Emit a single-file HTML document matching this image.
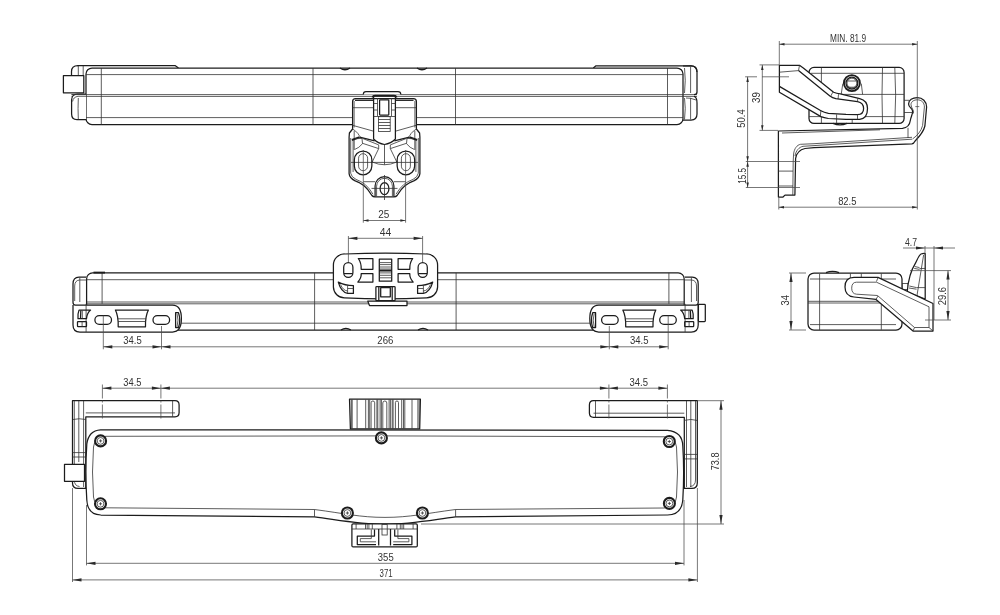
<!DOCTYPE html>
<html><head><meta charset="utf-8"><style>
html,body{margin:0;padding:0;background:#fff;width:1000px;height:615px;overflow:hidden}
svg{display:block;filter:grayscale(1)}
.o{stroke:#1c1c1c;stroke-width:1.25;stroke-linejoin:round}
.s{stroke:#1c1c1c;stroke-width:1.9}
.t{stroke:#333;stroke-width:0.8}
.k{stroke:#1c1c1c;stroke-width:1.3}
.s2{stroke:#1c1c1c;stroke-width:2.1}
.d{stroke:#4a4a4a;stroke-width:0.75}
.dd{stroke:#4a4a4a;stroke-width:0.75;stroke-dasharray:14 2 2 2}
.ar{fill:#2a2a2a;stroke:none}
text{font-family:"Liberation Sans",sans-serif;fill:#333}
</style></head><body>
<svg width="1000" height="615" viewBox="0 0 1000 615">
<rect width="1000" height="615" fill="#fff"/>
<path d="M77.5,65.5 L175,65.5 L178.5,68" class="o" fill="none"/>
<path d="M593.3,68 L596,65.8 L691,65.8 Q697,65.8 697,72" class="o" fill="none"/>
<rect x="86" y="68" width="597" height="56.5" rx="6" class="o" fill="#fff"/>
<line x1="86" y1="74.6" x2="683" y2="74.6" class="t"/>
<line x1="86" y1="117.6" x2="683" y2="117.6" class="t"/>
<line x1="71.5" y1="94.6" x2="697" y2="94.6" class="t"/>
<line x1="71.5" y1="96.4" x2="697" y2="96.4" class="t"/>
<line x1="101.3" y1="68" x2="101.3" y2="124.5" class="t"/>
<line x1="313" y1="68" x2="313" y2="124.5" class="t"/>
<line x1="455.5" y1="68" x2="455.5" y2="124.5" class="t"/>
<line x1="667.5" y1="68" x2="667.5" y2="124.5" class="t"/>
<path d="M340,68 Q345,71.5 350,68" class="o" fill="none"/>
<path d="M417,68 Q422,71.5 427,68" class="o" fill="none"/>
<path d="M83.2,75.7 L83.2,66" class="t" fill="none"/>
<path d="M78.3,75.7 L78.3,66" class="t" fill="none"/>
<path d="M78,65.5 Q71.5,65.5 71.5,71.5 L71.5,75.7" class="o" fill="none"/>
<rect x="63.4" y="75.7" width="20.4" height="17.1" rx="0" class="o" fill="#fff"/>
<path d="M86,94 L77.5,94 Q71.6,94.5 71.6,100 L71.6,114 Q71.6,119.6 77,119.6 L86,119.6" class="o" fill="#fff"/>
<path d="M86,96.3 L78,96.3 Q73.2,97 72.6,101.5" class="t" fill="none"/>
<path d="M78.3,98 Q77.8,108 78.3,119.3" class="t" fill="none"/>
<line x1="71.6" y1="94.6" x2="86" y2="94.6" class="t"/>
<line x1="86" y1="96.4" x2="86" y2="96.4" class="t"/>
<path d="M683,66 L691,65.8 Q697,65.8 697,72 L697,92 Q697,94.6 694,94.6" class="o" fill="none"/>
<path d="M694,96.4 Q697,97 697,103 L697,114 Q697,120 691,120 L683,120" class="o" fill="none"/>
<path d="M684.5,68 Q686,80 684.5,93" class="t" fill="none"/>
<path d="M690.6,66.5 L690.6,93" class="t" fill="none"/>
<path d="M684.5,98 Q686,108 684.5,119.5" class="t" fill="none"/>
<path d="M690.6,98 L690.6,119.5" class="t" fill="none"/>
<path d="M686,98 Q690,97.5 696,100" class="t" fill="none"/>
<path d="M363.4,94.6 L363.4,93.8 Q363.4,91.5 366,91.5 L398,91.5 Q400.7,91.5 400.7,93.8 L400.7,94.6" class="o" fill="#fff"/>
<path d="M352.6,129 L352.6,101.5 Q352.6,98.5 355.6,98.5 L413.4,98.5 Q416.4,98.5 416.4,101.5 L416.4,129 L419.6,133 L419.9,137 L419.9,173.6 Q419.5,178 413.8,180.9 Q409,182.5 404.9,185.8 Q401,189 397.1,195.5 Q396,196.9 394,196.9 L375,196.9 Q373,196.9 371.9,195.5 Q368,189 364.1,185.8 Q360,182.5 355.2,180.9 Q349.5,178 349.1,173.6 L349.1,137 L349.4,133 L352.6,129 Z" class="o" fill="#fff"/>
<line x1="355" y1="100.3" x2="373.6" y2="100.3" class="o"/>
<line x1="395.4" y1="100.3" x2="413.5" y2="100.3" class="o"/>
<line x1="354.1" y1="101" x2="354.1" y2="127.5" class="t"/>
<line x1="414.9" y1="101" x2="414.9" y2="127.5" class="t"/>
<line x1="352.5" y1="107.7" x2="373.6" y2="107.7" class="t"/>
<line x1="395.4" y1="107.7" x2="416.2" y2="107.7" class="t"/>
<line x1="352.5" y1="125.3" x2="373.6" y2="131.2" class="t"/>
<line x1="416.2" y1="125.3" x2="395.4" y2="131.2" class="t"/>
<path d="M373.6,95.6 L373.6,139 Q378,143.5 384.5,144.5 Q391,143.5 395.4,139 L395.4,95.6" class="o" fill="none"/>
<rect x="379.6" y="99.8" width="9.2" height="15.2" rx="0.5" class="o" fill="none"/>
<path d="M372.5,97.5 Q373,95.8 375,95.8 L394,95.8 Q396,95.8 396.5,97.5" class="s" fill="none"/>
<line x1="377.5" y1="98" x2="377.5" y2="116" class="t"/>
<line x1="391.5" y1="98" x2="391.5" y2="116" class="t"/>
<line x1="373.6" y1="103.5" x2="377.5" y2="103.5" class="t"/>
<line x1="373.6" y1="110" x2="377.5" y2="110" class="t"/>
<line x1="391.5" y1="103.5" x2="395.4" y2="103.5" class="t"/>
<line x1="391.5" y1="110" x2="395.4" y2="110" class="t"/>
<line x1="373.6" y1="116.5" x2="395.4" y2="116.5" class="t"/>
<rect x="378.5" y="116.7" width="11.7" height="14.8" rx="0" class="t" fill="none"/>
<line x1="378.5" y1="119.5" x2="390.2" y2="119.5" class="t"/>
<line x1="378.5" y1="122.5" x2="390.2" y2="122.5" class="t"/>
<line x1="378.5" y1="125.5" x2="390.2" y2="125.5" class="t"/>
<line x1="378.5" y1="128.5" x2="390.2" y2="128.5" class="t"/>
<path d="M352.6,129 Q356,131 358,133.6 Q359,135.5 360.2,136.6" class="t" fill="none"/>
<path d="M416.4,129 Q413,131 411,133.6 Q410,135.5 408.8,136.6" class="t" fill="none"/>
<line x1="354.2" y1="131" x2="354.2" y2="150" class="t"/>
<line x1="414.8" y1="131" x2="414.8" y2="150" class="t"/>
<path d="M351.9,140 L359.6,137.2" class="s" fill="none"/>
<path d="M417.1,140 L409.4,137.2" class="s" fill="none"/>
<path d="M359.6,137.2 L374.7,140.9" class="o" fill="none"/>
<path d="M409.4,137.2 L394.3,140.9" class="o" fill="none"/>
<path d="M354.8,138.8 L362,138.4 L362.5,143.7 Q359,148 354.8,149.4" class="t" fill="none"/>
<path d="M414.2,138.8 L407,138.4 L406.5,143.7 Q410,148 414.2,149.4" class="t" fill="none"/>
<line x1="362.5" y1="138.4" x2="378.7" y2="144.9" class="t"/>
<line x1="362.5" y1="143.3" x2="378.7" y2="148.6" class="t"/>
<line x1="406.5" y1="138.4" x2="390.3" y2="144.9" class="t"/>
<line x1="406.5" y1="143.3" x2="390.3" y2="148.6" class="t"/>
<path d="M350.7,138 L350.7,173.2 Q351.2,177 356,179.4 Q361,181.2 365.2,184.5 Q369.3,188 373,194.2 M396,194.2 Q399.7,188 403.8,184.5 Q408,181.2 413,179.4 Q417.8,177 418.3,173.2 L418.3,138" class="t" fill="none"/>
<line x1="353.1" y1="140" x2="353.1" y2="172" class="t"/>
<line x1="415.9" y1="140" x2="415.9" y2="172" class="t"/>
<line x1="384.5" y1="144.5" x2="384.5" y2="164.8" class="t"/>
<line x1="378.7" y1="148.6" x2="372.2" y2="162" class="t"/>
<line x1="390.3" y1="148.6" x2="396.8" y2="162" class="t"/>
<path d="M372.2,162 Q384.5,167.5 396.8,162" class="t" fill="none"/>
<line x1="378.7" y1="144.9" x2="378.7" y2="148.6" class="t"/>
<line x1="390.3" y1="144.9" x2="390.3" y2="148.6" class="t"/>
<line x1="351" y1="162.4" x2="418" y2="162.4" class="t"/>
<rect x="354.35" y="151" width="17.5" height="23.8" rx="8.75" class="o" fill="none"/>
<rect x="358.6" y="153.7" width="9" height="17" rx="4.5" class="t" fill="none"/>
<rect x="397.15" y="151" width="17.5" height="23.8" rx="8.75" class="o" fill="none"/>
<rect x="401.4" y="153.7" width="9" height="17" rx="4.5" class="t" fill="none"/>
<path d="M375.1,196.6 L375.1,186 A9.4,9.4 0 0 1 393.9,186 L393.9,196.6" class="o" fill="none"/>
<path d="M376.6,196.3 L376.6,186.2 A7.9,7.9 0 0 1 392.4,186.2 L392.4,196.3" class="t" fill="none"/>
<ellipse cx="384.5" cy="188.7" rx="4.4" ry="6" class="o" fill="none"/>
<line x1="371.5" y1="188.4" x2="397.5" y2="188.4" class="t"/>
<line x1="363.3" y1="181.7" x2="375" y2="181.7" class="t"/>
<line x1="394" y1="181.7" x2="405.7" y2="181.7" class="t"/>
<line x1="384.5" y1="175" x2="384.5" y2="200" class="t"/>
<rect x="809" y="67.4" width="95.1" height="56" rx="5" class="o" fill="#fff"/>
<line x1="811" y1="73.3" x2="904" y2="73.3" class="t"/>
<line x1="809" y1="94.4" x2="904" y2="94.4" class="t"/>
<line x1="809" y1="116.6" x2="904" y2="116.6" class="t"/>
<path d="M882.5,67.6 Q881.5,95 882.5,123.2" class="t" fill="none"/>
<path d="M894.8,67.6 Q896.5,95 894.8,123.2" class="t" fill="none"/>
<line x1="821.4" y1="67.6" x2="821.4" y2="123.2" class="t"/>
<line x1="836.6" y1="112" x2="836.6" y2="123.2" class="t"/>
<line x1="852.2" y1="112" x2="852.2" y2="123.2" class="t"/>
<path d="M833,123.4 Q840,126.5 847,123.4" class="o" fill="none"/>
<path d="M842.8,83.6 L841.2,94.4 M861.3,83.6 L862.6,94.4" class="t" fill="none"/>
<circle cx="851.9" cy="83.1" r="8.0" class="s" fill="#fff"/>
<circle cx="851.9" cy="83.1" r="5.9" class="k" fill="none"/>
<circle cx="851.9" cy="83.1" r="4.9" class="t" fill="none"/>
<line x1="847.5" y1="81" x2="856.3" y2="81" class="t"/>
<line x1="847.5" y1="87.2" x2="856.3" y2="87.2" class="t"/>
<path d="M779.4,65.3 L799.5,65.3 L803.3,67.9 L833.6,92.3 Q836.5,93.6 840.3,93.8 L859.7,98.6 Q867.5,100.5 867.5,108.5 Q867.5,118.7 859.7,119.3 L846,119.3 L828.4,118.5 Q824,117.8 820.9,116.6 L779.4,92.3 Z" class="o" fill="#fff"/>
<path d="M779.4,72.2 L798.5,70.6 L799.5,65.3" class="t" fill="none"/>
<path d="M798.5,70.6 L829.9,96.1 Q832.5,98 835.8,98.7 L857.5,101.6 Q863.6,102.8 863.6,108.5 Q863.6,114.6 857.5,114.6 L846,114.4 L828.4,113.3 Q824,112.5 820.9,110.7 L779.4,86.4" class="o" fill="none"/>
<line x1="832.8" y1="92.2" x2="830.6" y2="96.4" class="t"/>
<line x1="838.5" y1="94.2" x2="838.1" y2="99" class="t"/>
<line x1="820.9" y1="110.7" x2="820.3" y2="116.3" class="t"/>
<line x1="836.6" y1="114.4" x2="836.6" y2="119.3" class="t"/>
<line x1="857.8" y1="98.4" x2="857.5" y2="101.6" class="t"/>
<line x1="857.5" y1="114.6" x2="857.5" y2="119.3" class="t"/>
<path d="M778.4,197 L778.4,131 L902.5,128.3 C907,127.8 909.8,124.5 910.3,120.5 C910.8,117 913,114 912.6,111 C912.2,108 908.6,107.5 908.6,104 C908.6,100 912.5,97.6 917.3,97.6 C922.5,97.6 926.6,101.5 926.6,107 L924.9,126 C923.5,132 919,137 915.1,141 Q913.8,143.6 911.9,143.9 L814,147.7 L805,148.5 C800,149.5 796.5,153 795.6,158.5 L794.9,195.1 L785,195.1 L783,197 Z" class="o" fill="#fff"/>
<path d="M912,137.3 L814,143.7 L800.5,144.3 C797,145 794.2,148.5 793.6,154 L793.2,161.3 L792.8,195" class="t" fill="none"/>
<path d="M912,139.2 L814,145.6 L803,146.3 C799,147.2 796,150.5 795,156" class="t" fill="none"/>
<path d="M782,133 L880,129.8" class="t" fill="none"/>
<path d="M913.4,113.5 C914.5,110.5 911,108 911,104.6 C911,101.6 914,99.8 917.3,99.8 C921.5,99.8 924.4,102.5 924.4,107 L922.6,125.5 C921.2,131 917.5,135.5 912.5,139" class="t" fill="none"/>
<line x1="908" y1="127.8" x2="908" y2="138" class="t"/>
<line x1="778.4" y1="171.1" x2="793" y2="171.1" class="t"/>
<line x1="778.4" y1="186" x2="793" y2="186" class="t"/>
<line x1="904" y1="100.3" x2="909.5" y2="100.3" class="t"/>
<line x1="904" y1="112.5" x2="912.5" y2="112.5" class="t"/>
<rect x="86.6" y="272.9" width="597.6" height="57.1" rx="6" class="o" fill="#fff"/>
<line x1="86.6" y1="279.7" x2="684.2" y2="279.7" class="t"/>
<line x1="86.6" y1="302" x2="684.2" y2="302" class="t"/>
<line x1="86.6" y1="303.8" x2="684.2" y2="303.8" class="t"/>
<line x1="180" y1="323.2" x2="592" y2="323.2" class="t"/>
<line x1="314.6" y1="272.9" x2="314.6" y2="330" class="t"/>
<line x1="456.1" y1="272.9" x2="456.1" y2="330" class="t"/>
<line x1="102.1" y1="272.9" x2="102.1" y2="303.8" class="t"/>
<line x1="668.9" y1="272.9" x2="668.9" y2="303.8" class="t"/>
<path d="M340.9,330 Q345.9,326.6 350.9,330" class="o" fill="none"/>
<path d="M418,330 Q423,326.6 428,330" class="o" fill="none"/>
<line x1="93.5" y1="272.6" x2="105" y2="272.6" class="s"/>
<g id="endL">
<path d="M86.6,277.1 L79,277.1 Q73,277.1 73,284 L73,302.5 Q73,305 75.5,305 L172.5,305 Q181.4,305 181.4,318.6 Q181.4,332 172.5,332 L80,332 Q73,332 73,325 L73,305" class="o" fill="#fff"/>
<path d="M86.6,280 L79.5,280 Q74.7,280.5 74.7,286 L74.7,301" class="t" fill="none"/>
<line x1="79.8" y1="277.5" x2="79.8" y2="302" class="t"/>
<line x1="86.1" y1="303.8" x2="86.1" y2="332" class="t"/>
<rect x="94.9" y="315.7" width="16.6" height="8.6" rx="4.3" class="o" fill="none"/>
<rect x="153" y="315.7" width="16.6" height="8.6" rx="4.3" class="o" fill="none"/>
<path d="M115.4,310 L148.4,310 Q145.2,316 145.5,326.8 L118.2,326.8 Q118.5,316 115.4,310 Z" class="o" fill="none"/>
<line x1="117.8" y1="318.8" x2="146" y2="318.8" class="t"/>
<line x1="118" y1="321.5" x2="145.8" y2="321.5" class="t"/>
<path d="M175.6,312.7 L178.5,312.7 Q181,320 178.5,327.5 L175.6,327.5 Z" class="o" fill="none"/>
<path d="M177,313.5 Q179,320 177,327" class="t" fill="none"/>
<path d="M79,310.1 L90.6,310.1 Q87,313 86.5,318.7 L78,318.7 Q77.5,314 79,310.1 Z" class="o" fill="none"/>
<line x1="80.8" y1="310.5" x2="80.5" y2="318.5" class="o"/>
<line x1="82.3" y1="310.5" x2="82.3" y2="318.5" class="t"/>
<rect x="77.5" y="321.5" width="9" height="5.2" rx="0.6" class="o" fill="none"/>
<line x1="82.1" y1="321.5" x2="82.1" y2="326.7" class="t"/>
</g>
<use href="#endL" transform="translate(771.2,0) scale(-1,1)"/>
<rect x="698.4" y="304.4" width="6.9" height="17.1" rx="0.8" class="o" fill="#fff"/>
<path d="M367.8,301.2 L407,301.2 L407,305.6 L369.5,305.6 Z" class="o" fill="#fff"/>
<path d="M344.6,254 Q385.5,252.4 426.4,254 A11,11 0 0 1 437.6,265 L437.6,287 A11,11 0 0 1 426.4,297.8 Q385.5,300 344.6,297.8 A11,11 0 0 1 333.4,287 L333.4,265 A11,11 0 0 1 344.6,254 Z" class="o" fill="#fff"/>
<g id="cpL">
<rect x="343.7" y="262.6" width="9.2" height="14.7" rx="4.6" class="o" fill="none"/>
<line x1="343.9" y1="273.6" x2="352.7" y2="273.6" class="o"/>
<path d="M358.3,258.5 L372.9,258.5 L372.9,269.3 L361.2,269.3 Q361.5,263 358.3,258.5 Z" class="o" fill="none"/>
<path d="M361.2,273.6 L372.9,273.6 L372.9,282.1 L357.8,282.1 Q361.5,278 361.2,273.6 Z" class="o" fill="none"/>
<path d="M338.3,282.1 Q341,292 347.6,293.4 L353.4,293.4 L353.4,285.6 Q345,285.6 338.3,282.1 Z" class="o" fill="none"/>
<path d="M340.5,284.5 Q343,290.5 347.6,291" class="t" fill="none"/>
<line x1="347.6" y1="285.2" x2="347.6" y2="293.4" class="t"/>
<line x1="347.6" y1="288.5" x2="353.4" y2="288.5" class="t"/>
</g>
<use href="#cpL" transform="translate(771,0) scale(-1,1)"/>
<rect x="379.3" y="259.2" width="12.4" height="22" rx="0" class="o" fill="none"/>
<line x1="379.3" y1="262.6" x2="391.7" y2="262.6" class="t"/>
<line x1="379.3" y1="264.6" x2="391.7" y2="264.6" class="t"/>
<line x1="379.3" y1="267" x2="391.7" y2="267" class="t"/>
<line x1="379.3" y1="269" x2="391.7" y2="269" class="t"/>
<line x1="379.3" y1="270.6" x2="391.7" y2="270.6" class="s"/>
<line x1="379.3" y1="272.9" x2="391.7" y2="272.9" class="t"/>
<line x1="379.3" y1="275.3" x2="391.7" y2="275.3" class="t"/>
<line x1="379.3" y1="277.8" x2="391.7" y2="277.8" class="t"/>
<rect x="375.9" y="286.5" width="19.2" height="14.2" rx="0.8" class="o" fill="#fff"/>
<rect x="380.7" y="287.5" width="9.6" height="9.3" rx="0" class="o" fill="none"/>
<line x1="378.8" y1="287" x2="378.8" y2="300.5" class="o"/>
<line x1="392.2" y1="287" x2="392.2" y2="300.5" class="o"/>
<rect x="808" y="273" width="94" height="57" rx="6" class="o" fill="#fff"/>
<line x1="819.6" y1="274" x2="819.6" y2="330" class="t"/>
<line x1="808" y1="301.3" x2="882" y2="301.3" class="t"/>
<line x1="808" y1="303" x2="882" y2="303" class="t"/>
<line x1="810" y1="279" x2="896" y2="279" class="t"/>
<line x1="810" y1="324.6" x2="896" y2="324.6" class="t"/>
<line x1="881.3" y1="300" x2="881.3" y2="329.8" class="t"/>
<line x1="850.4" y1="273.5" x2="850.4" y2="279" class="t"/>
<line x1="861.3" y1="273.5" x2="861.3" y2="279" class="t"/>
<line x1="881.3" y1="273.5" x2="881.3" y2="279" class="t"/>
<path d="M826,272.7 Q832.5,270 839,272.7" class="o" fill="none"/>
<rect x="902.5" y="283.5" width="5.5" height="6" rx="0" class="t" fill="#fff"/>
<path d="M907.2,292 C908,282 910.5,271 915.6,262.9 C917.5,259 919,255 921,254 Q923,253.3 925.2,253.5 L925.2,299 Z" class="o" fill="#fff"/>
<path d="M914.7,266.5 L919.5,267.6 M914.2,268.4 L919.5,269.4" class="t" fill="none"/>
<line x1="919.5" y1="268.6" x2="925.2" y2="268.4" class="t"/>
<path d="M909.3,286 L916.5,287.6 M909,288 L916.5,289.2" class="t" fill="none"/>
<line x1="916.5" y1="287.6" x2="925.2" y2="287.6" class="t"/>
<line x1="923.6" y1="255" x2="916.9" y2="296" class="t"/>
<path d="M854,277.4 L878,277.4 L933,303.5 L933,331 L913,331 L876,299.4 L854,297 Q845,296 845,287 Q845,277.4 854,277.4 Z" class="o" fill="#fff"/>
<path d="M856.5,282.2 L876.5,282.2 L929,306.8 L929,327.5 L914.5,327.5 L877.5,295.5 L856.5,294.2 Q851.7,293.8 851.7,288.2 Q851.7,282.2 856.5,282.2 Z" class="t" fill="none"/>
<line x1="878" y1="277.4" x2="876.5" y2="281.5" class="t"/>
<line x1="876" y1="299.4" x2="878" y2="296" class="t"/>
<line x1="933" y1="331" x2="929" y2="327.5" class="t"/>
<line x1="913" y1="331" x2="914.5" y2="327.5" class="t"/>
<path d="M72.5,483 L72.5,400.7 L175,400.7 Q179.1,400.7 179.1,405 L179.1,412.5 Q179.1,416.8 175,416.8 L85.8,416.8 L85.8,488.4 L78,488.4 Q72.5,488.4 72.5,483 Z" class="o" fill="#fff"/>
<line x1="85.8" y1="412.9" x2="175" y2="412.9" class="t"/>
<line x1="78.8" y1="401" x2="78.8" y2="462" class="t"/>
<line x1="83.6" y1="401" x2="83.6" y2="487" class="t"/>
<line x1="172.6" y1="401" x2="172.6" y2="416.8" class="t"/>
<path d="M73,419.5 Q79,418 85.8,419.5" class="t" fill="none"/>
<line x1="72.5" y1="452.6" x2="85.8" y2="452.6" class="t"/>
<line x1="72.5" y1="457" x2="85.8" y2="457" class="t"/>
<path d="M74.3,401 L74.3,480 Q74.3,486 79.5,486.5" class="t" fill="none"/>
<rect x="64.5" y="464.3" width="20" height="17" rx="0" class="o" fill="#fff"/>
<path d="M697.3,483 L697.3,400.7 L593.5,400.7 Q589.4,400.7 589.4,405 L589.4,413 Q589.4,417.3 593.5,417.3 L684.3,417.3 L684.3,488.4 L692,488.4 Q697.3,488.4 697.3,483 Z" class="o" fill="#fff"/>
<line x1="684.3" y1="413.2" x2="593.5" y2="413.2" class="t"/>
<line x1="690.8" y1="401" x2="690.8" y2="487" class="t"/>
<line x1="686.5" y1="401" x2="686.5" y2="487" class="t"/>
<line x1="595.5" y1="401" x2="595.5" y2="417.3" class="t"/>
<path d="M697,420.4 Q691,418.5 684.3,420.4" class="t" fill="none"/>
<line x1="684.3" y1="454.4" x2="697" y2="454.4" class="t"/>
<line x1="684.3" y1="458.9" x2="697" y2="458.9" class="t"/>
<path d="M695.5,401 L695.5,480 Q695.5,486 690,486.5" class="t" fill="none"/>
<path d="M100.6,429.8 L667.4,430.3 Q682.5,431.5 682.8,446 Q684.5,472 682.8,500 Q681.5,514.8 667.6,515 L455.6,516.8 C425,521 410,524.2 385,524.2 C360,524.2 345,521 314.5,516.8 L100.8,515 Q87.5,514.5 86.8,500 Q85,472 86.8,444 Q88.5,430.5 100.6,429.8 Z" class="o" fill="#fff"/>
<path d="M106,436.3 L385,435.9 L664,436.8 Q675.5,437 676.5,447 Q678.5,472 676.5,497 Q675.5,507.8 664,508 L455.6,509.5 C425,513.5 410,517.4 385,517.4 C360,517.4 345,513.5 314.5,509.5 L106,507.8 Q94.5,507.5 93.5,497 Q91.5,472 93.5,447 Q94.5,436.5 106,436.3 Z" class="t" fill="none"/>
<line x1="314.5" y1="509.5" x2="314.5" y2="516.8" class="t"/>
<line x1="455.6" y1="509.5" x2="455.6" y2="516.8" class="t"/>
<path d="M349.5,399.2 L420.4,399.2 L419.7,428.9 L350.4,428.9 Z" class="o" fill="#fff"/>
<line x1="351.3" y1="399.6" x2="351.3" y2="428.6" class="t"/>
<line x1="352.2" y1="399.6" x2="352.2" y2="428.6" class="t"/>
<line x1="357.1" y1="399.6" x2="357.1" y2="428.6" class="t"/>
<line x1="365.7" y1="399.6" x2="365.7" y2="428.6" class="t"/>
<line x1="368.4" y1="399.6" x2="368.4" y2="428.6" class="t"/>
<line x1="369.7" y1="399.6" x2="369.7" y2="428.6" class="t"/>
<line x1="376.9" y1="399.6" x2="376.9" y2="428.6" class="t"/>
<line x1="377.8" y1="399.6" x2="377.8" y2="428.6" class="t"/>
<line x1="380.1" y1="399.6" x2="380.1" y2="428.6" class="t"/>
<line x1="381.4" y1="399.6" x2="381.4" y2="428.6" class="t"/>
<line x1="389.1" y1="399.6" x2="389.1" y2="428.6" class="t"/>
<line x1="390.4" y1="399.6" x2="390.4" y2="428.6" class="t"/>
<line x1="392.2" y1="399.6" x2="392.2" y2="428.6" class="t"/>
<line x1="393.1" y1="399.6" x2="393.1" y2="428.6" class="t"/>
<line x1="401.7" y1="399.6" x2="401.7" y2="428.6" class="t"/>
<line x1="403.5" y1="399.6" x2="403.5" y2="428.6" class="t"/>
<line x1="404.8" y1="399.6" x2="404.8" y2="428.6" class="t"/>
<line x1="412" y1="399.6" x2="412" y2="428.6" class="t"/>
<line x1="417.9" y1="399.6" x2="417.9" y2="428.6" class="t"/>
<line x1="419.2" y1="399.6" x2="419.2" y2="428.6" class="t"/>
<path d="M371.1,428.6 L371.1,402.79999999999995 A1.799999999999983,1.799999999999983 0 0 1 374.7,402.79999999999995 L374.7,428.6" class="t" fill="none"/>
<path d="M382.8,428.6 L382.8,403.0 A2.0,2.0 0 0 1 386.8,403.0 L386.8,428.6" class="t" fill="none"/>
<path d="M395.4,428.6 L395.4,402.55 A1.5500000000000114,1.5500000000000114 0 0 1 398.5,402.55 L398.5,428.6" class="t" fill="none"/>
<rect x="351.9" y="523.9" width="65.4" height="23" rx="1.2" class="o" fill="#fff"/>
<line x1="352" y1="529" x2="417.2" y2="529" class="t"/>
<line x1="356.1" y1="524" x2="356.1" y2="529" class="t"/>
<line x1="413.1" y1="524" x2="413.1" y2="529" class="t"/>
<line x1="365.5" y1="524" x2="365.5" y2="529" class="t"/>
<line x1="403.70000000000005" y1="524" x2="403.70000000000005" y2="529" class="t"/>
<line x1="367.2" y1="524" x2="367.2" y2="529" class="t"/>
<line x1="402.00000000000006" y1="524" x2="402.00000000000006" y2="529" class="t"/>
<line x1="368.9" y1="524" x2="368.9" y2="529" class="t"/>
<line x1="400.30000000000007" y1="524" x2="400.30000000000007" y2="529" class="t"/>
<line x1="372.3" y1="524" x2="372.3" y2="529" class="t"/>
<line x1="396.90000000000003" y1="524" x2="396.90000000000003" y2="529" class="t"/>
<path d="M378.7,529 L378.7,545.5 M390.5,529 L390.5,545.5" class="o" fill="none"/>
<rect x="382" y="524.5" width="5.2" height="10.5" rx="0" class="t" fill="none"/>
<path d="M374.5,529.5 L374.5,536 L357.3,536 L357.3,544.5 L376,544.5" class="o" fill="none"/>
<path d="M371.3,529.5 L371.3,538.6 L360.3,538.6 L360.3,541.8 L376,541.8" class="t" fill="none"/>
<path d="M394.7,529.5 L394.7,536 L411.9,536 L411.9,544.5 L393.2,544.5" class="o" fill="none"/>
<path d="M397.9,529.5 L397.9,538.6 L408.9,538.6 L408.9,541.8 L393.2,541.8" class="t" fill="none"/>
<circle cx="100.6" cy="440.9" r="5.5" class="s2" fill="#fff"/>
<circle cx="100.6" cy="440.9" r="3.4" class="t" fill="none"/>
<path d="M99.0,440.9 L102.19999999999999,440.9 M100.6,439.29999999999995 L100.6,442.5" class="t" fill="none"/>
<circle cx="100.5" cy="503.8" r="5.5" class="s2" fill="#fff"/>
<circle cx="100.5" cy="503.8" r="3.4" class="t" fill="none"/>
<path d="M98.9,503.8 L102.1,503.8 M100.5,502.2 L100.5,505.40000000000003" class="t" fill="none"/>
<circle cx="381.4" cy="437.9" r="5.5" class="s2" fill="#fff"/>
<circle cx="381.4" cy="437.9" r="3.4" class="t" fill="none"/>
<path d="M379.79999999999995,437.9 L383.0,437.9 M381.4,436.29999999999995 L381.4,439.5" class="t" fill="none"/>
<circle cx="347.4" cy="513" r="5.5" class="s2" fill="#fff"/>
<circle cx="347.4" cy="513" r="3.4" class="t" fill="none"/>
<path d="M345.79999999999995,513 L349.0,513 M347.4,511.4 L347.4,514.6" class="t" fill="none"/>
<circle cx="422.4" cy="513" r="5.5" class="s2" fill="#fff"/>
<circle cx="422.4" cy="513" r="3.4" class="t" fill="none"/>
<path d="M420.79999999999995,513 L424.0,513 M422.4,511.4 L422.4,514.6" class="t" fill="none"/>
<circle cx="669.3" cy="441.5" r="5.5" class="s2" fill="#fff"/>
<circle cx="669.3" cy="441.5" r="3.4" class="t" fill="none"/>
<path d="M667.6999999999999,441.5 L670.9,441.5 M669.3,439.9 L669.3,443.1" class="t" fill="none"/>
<circle cx="669.4" cy="503.4" r="5.5" class="s2" fill="#fff"/>
<circle cx="669.4" cy="503.4" r="3.4" class="t" fill="none"/>
<path d="M667.8,503.4 L671.0,503.4 M669.4,501.79999999999995 L669.4,505.0" class="t" fill="none"/>
<line x1="363.3" y1="150" x2="363.3" y2="222.7" class="d"/>
<line x1="405.6" y1="150" x2="405.6" y2="222.7" class="d"/>
<line x1="363.3" y1="220.5" x2="405.6" y2="220.5" class="d"/>
<polygon class="ar" points="363.30,220.50 368.50,219.25 368.50,221.75"/>
<polygon class="ar" points="405.60,220.50 400.40,219.25 400.40,221.75"/>
<text x="378.15" y="217.9" font-size="11.6" textLength="11.10" lengthAdjust="spacingAndGlyphs">25</text>
<line x1="779.3" y1="41" x2="779.3" y2="65" class="d"/>
<line x1="917.3" y1="41" x2="917.3" y2="209.5" class="d"/>
<line x1="779.3" y1="44.2" x2="917.3" y2="44.2" class="d"/>
<polygon class="ar" points="779.30,44.20 784.50,42.95 784.50,45.45"/>
<polygon class="ar" points="917.30,44.20 912.10,42.95 912.10,45.45"/>
<text x="830.05" y="41.8" font-size="11.6" textLength="36.00" lengthAdjust="spacingAndGlyphs">MIN. 81.9</text>
<line x1="778.8" y1="198" x2="778.8" y2="209.5" class="d"/>
<line x1="778.8" y1="207.2" x2="917.3" y2="207.2" class="d"/>
<polygon class="ar" points="778.80,207.20 784.00,205.95 784.00,208.45"/>
<polygon class="ar" points="917.30,207.20 912.10,205.95 912.10,208.45"/>
<text x="838.15" y="204.8" font-size="11.6" textLength="18.30" lengthAdjust="spacingAndGlyphs">82.5</text>
<line x1="759.5" y1="64.9" x2="779" y2="64.9" class="d"/>
<line x1="759.5" y1="130.4" x2="778" y2="130.4" class="d"/>
<line x1="762.3" y1="64.9" x2="762.3" y2="130.4" class="d"/>
<polygon class="ar" points="762.30,64.90 761.05,70.10 763.55,70.10"/>
<polygon class="ar" points="762.30,130.40 761.05,125.20 763.55,125.20"/>
<line x1="745.1" y1="76.8" x2="757" y2="76.8" class="d"/>
<line x1="762" y1="76.8" x2="789" y2="76.8" class="d"/>
<line x1="745.8" y1="161.5" x2="800" y2="161.5" class="d"/>
<line x1="745.8" y1="187.5" x2="800" y2="187.5" class="d"/>
<line x1="747.6" y1="76.8" x2="747.6" y2="187.6" class="d"/>
<polygon class="ar" points="747.60,76.80 746.35,82.00 748.85,82.00"/>
<polygon class="ar" points="747.60,161.50 746.35,156.30 748.85,156.30"/>
<polygon class="ar" points="747.60,161.50 746.35,166.70 748.85,166.70"/>
<polygon class="ar" points="747.60,187.60 746.35,182.40 748.85,182.40"/>
<text transform="translate(760,97.6) rotate(-90)" x="-5.35" y="0" font-size="11.6" textLength="10.70" lengthAdjust="spacingAndGlyphs">39</text>
<text transform="translate(745,118.55) rotate(-90)" x="-9.20" y="0" font-size="11.6" textLength="18.40" lengthAdjust="spacingAndGlyphs">50.4</text>
<text transform="translate(745.5,175.95) rotate(-90)" x="-7.80" y="0" font-size="11.6" textLength="15.60" lengthAdjust="spacingAndGlyphs">15.5</text>
<line x1="915.3" y1="106.6" x2="919.3" y2="106.6" class="d"/>
<line x1="348.4" y1="236" x2="348.4" y2="262" class="d"/>
<line x1="422.6" y1="236" x2="422.6" y2="262" class="d"/>
<line x1="348.4" y1="238.3" x2="422.6" y2="238.3" class="d"/>
<polygon class="ar" points="348.40,238.30 357.40,236.70 357.40,239.90"/>
<polygon class="ar" points="422.60,238.30 413.60,236.70 413.60,239.90"/>
<text x="379.75" y="235.8" font-size="11.6" textLength="11.50" lengthAdjust="spacingAndGlyphs">44</text>
<line x1="103.3" y1="315.6" x2="103.3" y2="349.3" class="d"/>
<line x1="161.5" y1="326" x2="161.5" y2="349.3" class="d"/>
<line x1="609.3" y1="326" x2="609.3" y2="349.3" class="d"/>
<line x1="668.2" y1="315.6" x2="668.2" y2="349.3" class="d"/>
<line x1="103.3" y1="346.8" x2="668.2" y2="346.8" class="d"/>
<polygon class="ar" points="103.30,346.80 112.30,345.20 112.30,348.40"/>
<polygon class="ar" points="161.50,346.80 152.50,345.20 152.50,348.40"/>
<polygon class="ar" points="161.50,346.80 170.50,345.20 170.50,348.40"/>
<polygon class="ar" points="609.30,346.80 600.30,345.20 600.30,348.40"/>
<polygon class="ar" points="609.30,346.80 618.30,345.20 618.30,348.40"/>
<polygon class="ar" points="668.20,346.80 659.20,345.20 659.20,348.40"/>
<text x="123.25" y="344.4" font-size="11.6" textLength="18.40" lengthAdjust="spacingAndGlyphs">34.5</text>
<text x="377.35" y="344.3" font-size="11.6" textLength="16.00" lengthAdjust="spacingAndGlyphs">266</text>
<text x="629.95" y="344.4" font-size="11.6" textLength="18.50" lengthAdjust="spacingAndGlyphs">34.5</text>
<line x1="789" y1="273" x2="806" y2="273" class="d"/>
<line x1="789" y1="330" x2="806" y2="330" class="d"/>
<line x1="791" y1="273" x2="791" y2="330" class="d"/>
<polygon class="ar" points="791.00,273.00 789.40,282.00 792.60,282.00"/>
<polygon class="ar" points="791.00,330.00 789.40,321.00 792.60,321.00"/>
<text transform="translate(789.2,300.25) rotate(-90)" x="-5.20" y="0" font-size="11.6" textLength="10.40" lengthAdjust="spacingAndGlyphs">34</text>
<line x1="910" y1="270.6" x2="951" y2="270.6" class="d"/>
<line x1="925" y1="320" x2="951" y2="320" class="d"/>
<line x1="948" y1="270.6" x2="948" y2="320" class="d"/>
<polygon class="ar" points="948.00,270.60 946.40,279.60 949.60,279.60"/>
<polygon class="ar" points="948.00,320.00 946.40,311.00 949.60,311.00"/>
<text transform="translate(946.2,296.1) rotate(-90)" x="-9.15" y="0" font-size="11.6" textLength="18.30" lengthAdjust="spacingAndGlyphs">29.6</text>
<line x1="925" y1="246" x2="925" y2="255" class="d"/>
<line x1="934" y1="246" x2="934" y2="320" class="d"/>
<line x1="903" y1="248" x2="955" y2="248" class="d"/>
<polygon class="ar" points="925.00,248.00 916.00,246.40 916.00,249.60"/>
<polygon class="ar" points="934.00,248.00 943.00,246.40 943.00,249.60"/>
<text x="905.05" y="245.6" font-size="11.6" textLength="12.00" lengthAdjust="spacingAndGlyphs">4.7</text>
<line x1="102.4" y1="384.5" x2="102.4" y2="419.4" class="dd"/>
<line x1="160.9" y1="384.5" x2="160.9" y2="419.4" class="dd"/>
<line x1="608.9" y1="384.5" x2="608.9" y2="419.4" class="dd"/>
<line x1="667.4" y1="384.5" x2="667.4" y2="419.4" class="dd"/>
<line x1="102.4" y1="388.2" x2="667.4" y2="388.2" class="d"/>
<polygon class="ar" points="102.40,388.20 111.40,386.60 111.40,389.80"/>
<polygon class="ar" points="160.90,388.20 151.90,386.60 151.90,389.80"/>
<polygon class="ar" points="160.90,388.20 169.90,386.60 169.90,389.80"/>
<polygon class="ar" points="608.90,388.20 599.90,386.60 599.90,389.80"/>
<polygon class="ar" points="608.90,388.20 617.90,386.60 617.90,389.80"/>
<polygon class="ar" points="667.40,388.20 658.40,386.60 658.40,389.80"/>
<text x="123.25" y="385.9" font-size="11.6" textLength="18.20" lengthAdjust="spacingAndGlyphs">34.5</text>
<text x="629.55" y="385.9" font-size="11.6" textLength="18.50" lengthAdjust="spacingAndGlyphs">34.5</text>
<line x1="697" y1="400.7" x2="724" y2="400.7" class="d"/>
<line x1="421" y1="524" x2="724" y2="524" class="d"/>
<line x1="721" y1="400.7" x2="721" y2="524" class="d"/>
<polygon class="ar" points="721.00,400.70 719.40,409.70 722.60,409.70"/>
<polygon class="ar" points="721.00,524.00 719.40,515.00 722.60,515.00"/>
<text transform="translate(718.8,461.4) rotate(-90)" x="-8.85" y="0" font-size="11.6" textLength="17.70" lengthAdjust="spacingAndGlyphs">73.8</text>
<line x1="72.5" y1="488" x2="72.5" y2="582" class="d"/>
<line x1="697.4" y1="488" x2="697.4" y2="582" class="d"/>
<line x1="86.5" y1="505" x2="86.5" y2="565.4" class="d"/>
<line x1="684" y1="500" x2="684" y2="565.4" class="d"/>
<line x1="86.5" y1="563.3" x2="684" y2="563.3" class="d"/>
<polygon class="ar" points="86.50,563.30 95.50,561.70 95.50,564.90"/>
<polygon class="ar" points="684.00,563.30 675.00,561.70 675.00,564.90"/>
<line x1="72.5" y1="579.9" x2="697.4" y2="579.9" class="d"/>
<polygon class="ar" points="72.50,579.90 81.50,578.30 81.50,581.50"/>
<polygon class="ar" points="697.40,579.90 688.40,578.30 688.40,581.50"/>
<text x="377.85" y="561" font-size="11.6" textLength="15.80" lengthAdjust="spacingAndGlyphs">355</text>
<text x="379.55" y="577.1" font-size="11.6" textLength="13.10" lengthAdjust="spacingAndGlyphs">371</text>
</svg></body></html>
